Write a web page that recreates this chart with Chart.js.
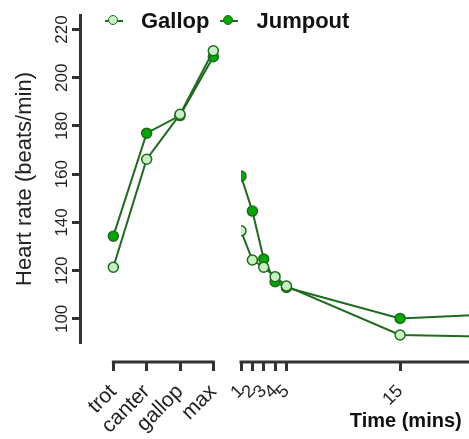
<!DOCTYPE html>
<html lang="en">
<head>
    <meta charset="UTF-8">
    <title>Heart rate</title>
    <style>
        body {
            margin: 0;
            background: #fff;
            overflow: hidden;
            font-family: "Liberation Sans", Arial, sans-serif;
        }
        /* the figure is cropped on the right, like the original */
        #wrap {
            position: relative;
            width: 469px;
            height: 439px;
            overflow: hidden;
        }
        #legend {
            position: absolute;
            left: 105px;
            top: 8px;
            display: flex;
            align-items: center;
            font-size: 22px;
            font-weight: bold;
            color: #111;
        }
        .item {
            display: flex;
            align-items: center;
            margin-right: 11px;
        }
        .mark {
            position: relative;
            width: 18px;
            height: 12px;
            margin-right: 18px;
        }
        .mark .ln {
            position: absolute;
            left: 0;
            right: 0;
            top: 5px;
            height: 2px;
        }
        .mark .dot {
            position: absolute;
            left: 3px;
            top: 0;
            width: 8px;
            height: 8px;
            border: 1.5px solid;
            border-radius: 50%;
        }
    </style>
    <script src="https://cdn.jsdelivr.net/npm/chart.js"></script>
</head>
<body>
<div id="wrap">
    <canvas id="hr" width="577" height="439"></canvas>
    <div id="legend"></div>
</div>
<script>
    // exercise phases (left part of the x axis)
    const phases = ['trot', 'canter', 'gallop', 'max'];
    const gallopExercise = [121.4, 166.2, 184.8, 211.2];
    const jumpoutExercise = [134.3, 177, 184.3, 208.7];

    // recovery, minutes after exercise (right part)
    const recoveryMins = [1, 2, 3, 4, 5, 15, 30];
    const gallopRecovery = [136.5, 124.4, 121.4, 117.5, 113.6, 93.3, 92];
    const jumpoutRecovery = [159.2, 144.7, 124.8, 115.4, 113, 100.2, 103.4];

    const yTicks = [100, 120, 140, 160, 180, 200, 220];
    const timeTicks = [1, 2, 3, 4, 5, 15];

    const lineColor = '#1e6b1e';
    const axisColor = '#333';
    const axisGap = 19; // x axis sits below the plot, prism style

    const series = [
        { label: 'Gallop', fill: '#c8f0c2', exercise: gallopExercise, recovery: gallopRecovery },
        { label: 'Jumpout', fill: '#00a800', exercise: jumpoutExercise, recovery: jumpoutRecovery }
    ];

    Chart.defaults.font.family = "'Liberation Sans', Arial, sans-serif";
    Chart.defaults.color = '#222';

    function makeSet(s, axis, xs, ys) {
        return {
            label: s.label,
            xAxisID: axis,
            data: xs.map((x, i) => ({ x: x, y: ys[i] })),
            borderColor: lineColor,
            borderWidth: 2,
            backgroundColor: s.fill,
            pointBackgroundColor: s.fill,
            pointBorderColor: lineColor,
            pointBorderWidth: 1.5,
            pointRadius: 5,
            tension: 0
        };
    }

    const datasets = [];
    series.forEach(s => {
        datasets.push(makeSet(s, 'x', phases.map((p, i) => i), s.exercise));
        datasets.push(makeSet(s, 'x2', recoveryMins, s.recovery));
    });

    // draw the two pieces of the broken x axis
    const brokenAxis = {
        id: 'brokenAxis',
        afterDraw(chart) {
            const ctx = chart.ctx;
            const y = chart.chartArea.bottom + axisGap;
            const sx = chart.scales.x;
            const sx2 = chart.scales.x2;
            ctx.save();
            ctx.strokeStyle = axisColor;
            ctx.lineWidth = 3;
            ctx.beginPath();
            ctx.moveTo(sx.getPixelForValue(0) - 1.5, y);
            ctx.lineTo(sx.getPixelForValue(phases.length - 1) + 1.5, y);
            ctx.moveTo(sx2.getPixelForValue(timeTicks[0]) - 1.5, y);
            ctx.lineTo(sx2.right, y);
            ctx.stroke();
            ctx.restore();
        }
    };

    const xGrid = {
        drawOnChartArea: false,
        tickLength: axisGap + 9,
        tickWidth: 3,
        tickColor: axisColor,
        tickBorderDash: [0, axisGap, 9, 100]
    };

    new Chart(document.getElementById('hr'), {
        type: 'line',
        data: { datasets: datasets },
        plugins: [brokenAxis],
        options: {
            responsive: false,
            animation: false,
            layout: { padding: { top: 15, right: 0, bottom: 0, left: 0 } },
            plugins: {
                legend: { display: false },
                tooltip: { enabled: false }
            },
            scales: {
                x: {
                    type: 'linear',
                    position: 'bottom',
                    stack: 'time',
                    stackWeight: 161,
                    min: -1,
                    max: 3.83,
                    afterBuildTicks: s => { s.ticks = phases.map((p, i) => ({ value: i })); },
                    ticks: {
                        callback: v => phases[v],
                        autoSkip: false,
                        minRotation: 45,
                        maxRotation: 45,
                        padding: 10,
                        font: { size: 21, lineHeight: 1 },
                        color: '#222'
                    },
                    grid: xGrid,
                    border: { display: false },
                    afterFit: s => { s.height = 96; s.paddingLeft = 0; s.paddingRight = 0; }
                },
                x2: {
                    type: 'linear',
                    position: 'bottom',
                    stack: 'time',
                    stackWeight: 329.5,
                    min: 1,
                    max: 30,
                    afterBuildTicks: s => { s.ticks = timeTicks.map(v => ({ value: v })); },
                    ticks: {
                        autoSkip: false,
                        minRotation: 45,
                        maxRotation: 45,
                        padding: 11,
                        font: { size: 18, lineHeight: 1 },
                        color: '#222'
                    },
                    grid: xGrid,
                    border: { display: false },
                    title: {
                        display: true,
                        text: 'Time (mins)',
                        font: { size: 20, weight: 'bold' },
                        color: '#111',
                        padding: { top: 0, bottom: 6 }
                    },
                    afterFit: s => { s.height = 96; s.paddingLeft = 0; s.paddingRight = 0; }
                },
                y: {
                    min: 90,
                    max: 226,
                    afterBuildTicks: s => { s.ticks = yTicks.map(v => ({ value: v })); },
                    ticks: {
                        minRotation: 90,
                        maxRotation: 90,
                        crossAlign: 'center',
                        padding: -4,
                        font: { size: 17 },
                        color: '#222'
                    },
                    grid: {
                        drawOnChartArea: false,
                        tickLength: 8,
                        tickWidth: 3,
                        tickColor: axisColor
                    },
                    border: { display: true, width: 3, color: axisColor },
                    title: {
                        display: true,
                        text: 'Heart rate (beats/min)',
                        font: { size: 22 },
                        color: '#222',
                        padding: { top: 12, bottom: 0 }
                    },
                    afterFit: s => { s.width = 80; s.paddingTop = 0; s.paddingBottom = 0; }
                }
            }
        }
    });

    // legend built from the series list
    const legend = document.getElementById('legend');
    series.forEach(s => {
        const item = document.createElement('div');
        item.className = 'item';
        item.innerHTML = '<span class="mark"><span class="ln" style="background:' + lineColor + '"></span>' +
            '<span class="dot" style="background:' + s.fill + ';border-color:' + lineColor + '"></span></span>' +
            '<span>' + s.label + '</span>';
        legend.appendChild(item);
    });
</script>
</body>
</html>
